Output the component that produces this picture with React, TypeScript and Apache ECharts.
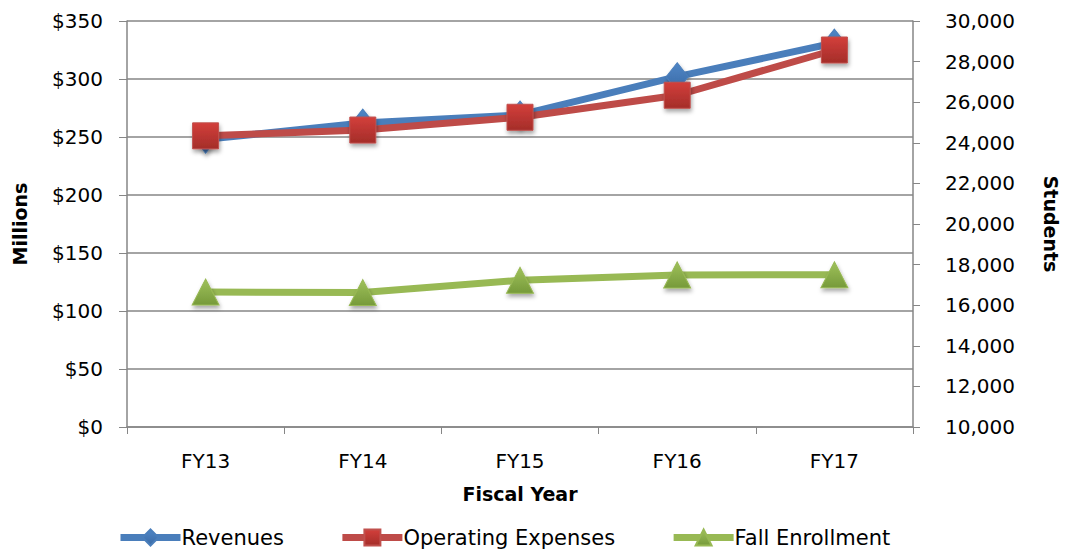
import React, { useEffect, useRef } from "react";
import * as echarts from "echarts";

const categories = ["FY13", "FY14", "FY15", "FY16", "FY17"];
const revenues = [248, 262, 269, 302, 331];
const operatingExpenses = [251, 256, 267, 286, 325];
const fallEnrollment = [16650, 16620, 17230, 17490, 17500];

const FONT = "'DejaVu Sans', sans-serif";

function grad(top: string, bottom: string) {
  return new echarts.graphic.LinearGradient(0, 0, 0, 1, [
    { offset: 0, color: top },
    { offset: 1, color: bottom },
  ]);
}

export default function App() {
  const ref = useRef<HTMLDivElement>(null);
  useEffect(() => {
    if (!ref.current) return;
    const chart = echarts.init(ref.current, undefined, { renderer: "svg" });
    const shadow = {
      shadowBlur: 4,
      shadowOffsetX: 1,
      shadowOffsetY: 3,
      shadowColor: "rgba(0,0,0,0.35)",
    };
    const nameStyle = { fontFamily: FONT, fontSize: 19, fontWeight: "bold", color: "#000" };
    chart.setOption({
      animation: false,
      backgroundColor: "#ffffff",
      textStyle: { fontFamily: FONT },
      grid: { left: 127, right: 153, top: 21, bottom: 125, containLabel: false, outerBoundsMode: "none" },
      legend: {
        left: 117,
        top: 527,
        padding: 0,
        itemWidth: 60,
        itemHeight: 20,
        itemGap: 55,
        lineStyle: { width: 7 },
        textStyle: { fontFamily: FONT, fontSize: 21, color: "#000", padding: [0, 0, 0, -4] },
        data: ["Revenues", "Operating Expenses", "Fall Enrollment"],
      },
      xAxis: {
        type: "category",
        data: categories,
        boundaryGap: true,
        name: "Fiscal Year",
        nameLocation: "middle",
        nameGap: 57,
        nameTextStyle: nameStyle,
        axisLine: { lineStyle: { color: "#868686", width: 1.5 } },
        axisTick: { show: true, length: 7, alignWithLabel: false, lineStyle: { color: "#868686" } },
        axisLabel: { fontFamily: FONT, fontSize: 20, color: "#000", margin: 24 },
        splitLine: { show: false },
      },
      yAxis: [
        {
          type: "value",
          min: 0,
          max: 350,
          interval: 50,
          name: "Millions",
          nameLocation: "middle",
          nameGap: 98,
          nameRotate: 90,
          nameTextStyle: nameStyle,
          axisLine: { show: true, lineStyle: { color: "#868686", width: 1.5 } },
          axisTick: { show: true, length: 8, lineStyle: { color: "#868686" } },
          axisLabel: { fontFamily: FONT, fontSize: 20, color: "#000", margin: 24, formatter: "${value}" },
          splitLine: { show: true, lineStyle: { color: "#868686", width: 1.5 } },
        },
        {
          type: "value",
          min: 10000,
          max: 30000,
          interval: 2000,
          position: "right",
          name: "Students",
          nameLocation: "middle",
          nameGap: 128,
          nameRotate: -90,
          nameTextStyle: nameStyle,
          axisLine: { show: true, lineStyle: { color: "#868686", width: 1.5 } },
          axisTick: { show: true, length: 7, lineStyle: { color: "#868686" } },
          axisLabel: {
            fontFamily: FONT,
            fontSize: 20,
            color: "#000",
            margin: 32,
            formatter: (v: number) => v.toLocaleString("en-US"),
          },
          splitLine: { show: false },
        },
      ],
      series: [
        {
          name: "Revenues",
          type: "line",
          data: revenues,
          yAxisIndex: 0,
          symbol: "diamond",
          symbolSize: [22, 28],
          lineStyle: { color: "#4a7ebb", width: 7 },
          itemStyle: { color: grad("#4f86c6", "#3a6aa6"), borderColor: "#4a7ebb", borderWidth: 1, ...shadow },
        },
        {
          name: "Operating Expenses",
          type: "line",
          data: operatingExpenses,
          yAxisIndex: 0,
          symbol: "rect",
          symbolSize: 26,
          lineStyle: { color: "#be4b48", width: 7 },
          itemStyle: { color: grad("#d33f3b", "#a42d29"), borderColor: "#c0504d", borderWidth: 1, ...shadow },
        },
        {
          name: "Fall Enrollment",
          type: "line",
          data: fallEnrollment,
          yAxisIndex: 1,
          symbol: "triangle",
          symbolSize: [27, 26],
          lineStyle: { color: "#98b954", width: 7 },
          itemStyle: { color: grad("#9fc15b", "#769a3a"), borderColor: "#98b954", borderWidth: 1, ...shadow },
        },
      ],
    });
    return () => chart.dispose();
  }, []);
  return <div ref={ref} style={{ width: 1066, height: 552, position: "absolute", left: 0, top: 0 }} />;
}
